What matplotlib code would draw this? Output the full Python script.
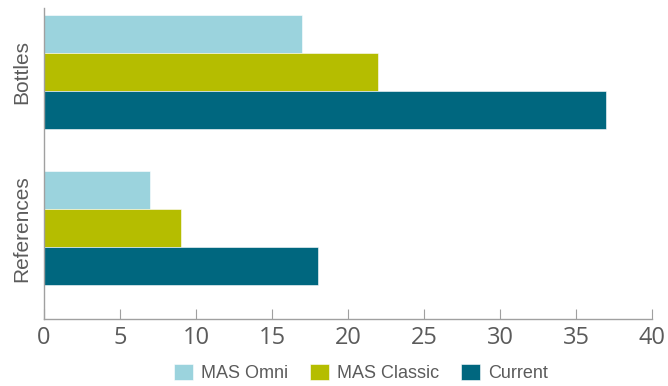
import numpy as np
import matplotlib.pyplot as plt

# data
categories = ["Bottles", "References"]
series_names = ["MAS Omni", "MAS Classic", "Current"]
mas_omni = [17, 7]
mas_classic = [22, 9]
current = [37, 18]
x_ticks = [0, 5, 10, 15, 20, 25, 30, 35, 40]

colors = ["#9BD3DD", "#B5BD00", "#00677F"]
text_gray = "#5B5B5B"

fig = plt.figure(figsize=(6.68, 3.86), dpi=100)
ax = fig.add_axes([0.066, 0.174, 0.910, 0.805])

# Bottles on top, References below
centers = np.array([1.0, 0.0])
h = 0.243
offsets = [h, 0.0, -h]
for vals, off, col, name in zip([mas_omni, mas_classic, current], offsets, colors, series_names):
    ax.barh(centers + off, vals, height=h, color=col, label=name,
            edgecolor="white", linewidth=0.4)

ax.set_xlim(0, 40)
ax.set_ylim(-0.58, 1.41)
ax.set_xticks(x_ticks)
ax.set_xticklabels([str(t) for t in x_ticks], fontsize=17, color=text_gray,
                   family=["Open Sans", "DejaVu Sans"])
ax.set_yticks(centers)
ax.set_yticklabels(categories, rotation=90, va="center", fontsize=15,
                   color=text_gray, family=["Liberation Sans", "DejaVu Sans"])
ax.tick_params(axis="y", length=0, pad=9)
ax.tick_params(axis="x", direction="in", length=7, color="#A0A0A0", pad=5)

for side in ["top", "right"]:
    ax.spines[side].set_visible(False)
for side in ["left", "bottom"]:
    ax.spines[side].set_color("#A0A0A0")
    ax.spines[side].set_linewidth(1.0)

leg = fig.legend(loc="center", bbox_to_anchor=(0.54, 0.034), ncol=3, frameon=False,
                 prop={"family": ["Liberation Sans", "DejaVu Sans"], "size": 13},
                 handlelength=1.05, handleheight=1.05, handletextpad=0.45,
                 columnspacing=1.2, borderpad=0.1)
for t in leg.get_texts():
    t.set_color(text_gray)

fig.savefig("out.png", dpi=100)
